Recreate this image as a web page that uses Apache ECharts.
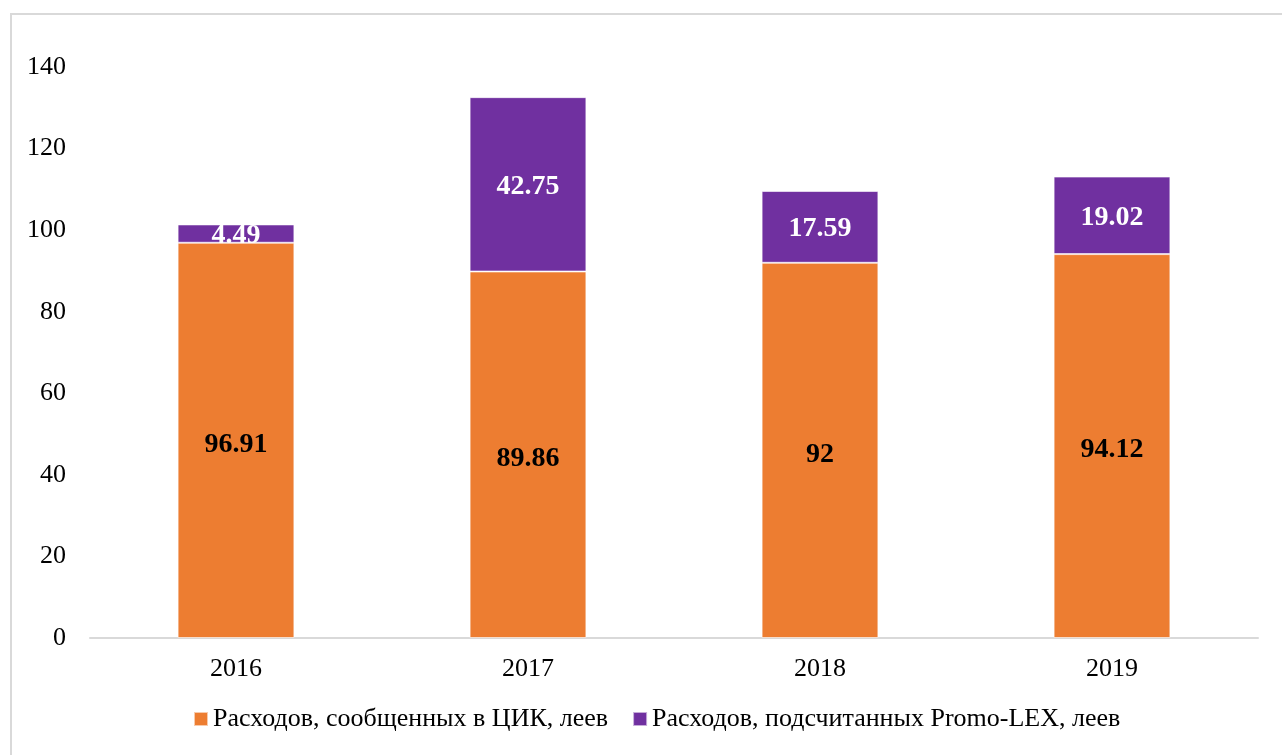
<!DOCTYPE html>
<html>
<head>
<meta charset="utf-8">
<script src="https://cdn.jsdelivr.net/npm/echarts@6/dist/echarts.min.js"></script>
<style>
  html, body { margin: 0; padding: 0; background: #fff; }
  #chart { width: 1282px; height: 755px; }
</style>
</head>
<body>
<div id="chart"></div>
<script>
const years = ['2016', '2017', '2018', '2019']
const cikValues = [96.91, 89.86, 92, 94.12]
const promoValues = [4.49, 42.75, 17.59, 19.02]
const seriesNames = ['Расходов, сообщенных в ЦИК, леев', 'Расходов, подсчитанных Promo-LEX, леев']

const font = '"Liberation Serif", "DejaVu Serif", serif'

const chart = echarts.init(document.getElementById('chart'))
chart.setOption({
  animation: false,
  textStyle: { fontFamily: font },
  graphic: [
    {
      type: 'rect',
      shape: { x: 11, y: 14, width: 1290, height: 760 },
      style: { fill: 'none', stroke: '#d9d9d9', lineWidth: 2 },
      silent: true
    }
  ],
  grid: {
    left: 90,
    right: 24,
    top: 67,
    bottom: 117
  },
  legend: {
    data: seriesNames,
    top: 701,
    left: 188,
    icon: 'rect',
    itemWidth: 14,
    itemHeight: 14,
    itemGap: 24,
    textStyle: { fontFamily: font, fontSize: 26, color: '#000' }
  },
  xAxis: {
    type: 'category',
    data: years,
    axisLine: { lineStyle: { color: '#d9d9d9', width: 2 } },
    axisTick: { show: false },
    axisLabel: { color: '#000', fontSize: 26, fontFamily: font, margin: 18 }
  },
  yAxis: {
    type: 'value',
    min: 0,
    max: 140,
    interval: 20,
    splitLine: { show: false },
    axisLine: { show: false },
    axisTick: { show: false },
    axisLabel: { color: '#000', fontSize: 26, fontFamily: font, margin: 24 }
  },
  series: [
    {
      name: seriesNames[0],
      type: 'bar',
      stack: 'total',
      barWidth: '40%',
      data: cikValues,
      itemStyle: { color: '#ED7D31', borderColor: 'rgba(255,255,255,0.6)', borderWidth: 1 },
      label: {
        show: true,
        position: 'inside',
        offset: [0, 4],
        color: '#000',
        fontWeight: 'bold',
        fontSize: 28,
        fontFamily: font
      }
    },
    {
      name: seriesNames[1],
      type: 'bar',
      stack: 'total',
      barWidth: '40%',
      data: promoValues,
      itemStyle: { color: '#7030A0', borderColor: 'rgba(255,255,255,0.6)', borderWidth: 1 },
      label: {
        show: true,
        position: 'inside',
        offset: [0, 2],
        color: '#fff',
        fontWeight: 'bold',
        fontSize: 28,
        fontFamily: font
      }
    }
  ]
})
</script>
</body>
</html>
